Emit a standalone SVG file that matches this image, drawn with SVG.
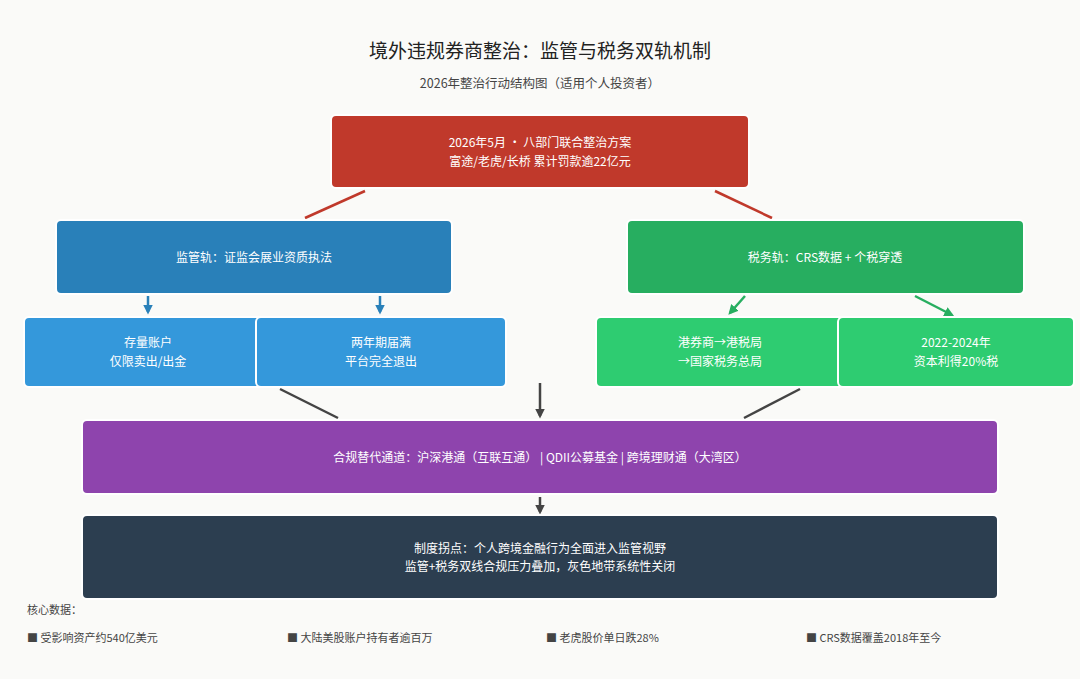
<svg xmlns="http://www.w3.org/2000/svg" width="1080" height="679" viewBox="0 0 1080 679">
<defs>
<style>
text{font-family:"Noto Sans CJK SC","Noto Sans",sans-serif}
.w{fill:#fff;font-size:12px;text-anchor:middle}
.n{stroke:#fff;stroke-width:2}
.c{fill:none;stroke-width:2.5}
.f{fill:#444;font-size:11px}
</style>
<marker id="a" markerWidth="4" markerHeight="4" refX="3" refY="2" orient="auto"><path d="M0,0 L4,2 L0,4z" fill="#2980b9"/></marker>
<marker id="g" markerWidth="4" markerHeight="4" refX="3" refY="2" orient="auto"><path d="M0,0 L4,2 L0,4z" fill="#27ae60"/></marker>
<marker id="k" markerWidth="4" markerHeight="4" refX="3" refY="2" orient="auto"><path d="M0,0 L4,2 L0,4z" fill="#444"/></marker>
</defs>
<rect width="1080" height="679" fill="#fafaf8"/>
<text x="540" y="58" font-size="19" text-anchor="middle" fill="#222">境外违规券商整治：监管与税务双轨机制</text>
<text x="540" y="88" font-size="12.5" text-anchor="middle" fill="#444">2026年整治行动结构图（适用个人投资者）</text>
<g id="connectors">
<path class="c" d="M365,191 L305,218" stroke="#c0392b"/>
<path class="c" d="M715,191 L772,218" stroke="#c0392b"/>
<path class="c" d="M148,296 L148,312" stroke="#2980b9" marker-end="url(#a)"/>
<path class="c" d="M380,296 L380,312" stroke="#2980b9" marker-end="url(#a)"/>
<path class="c" d="M745,296 L730,313" stroke="#27ae60" marker-end="url(#g)"/>
<path class="c" d="M915,296 L952,315" stroke="#27ae60" marker-end="url(#g)"/>
<path class="c" d="M280,389 L338,418" stroke="#444"/>
<path class="c" d="M800,389 L744,418" stroke="#444"/>
<path class="c" d="M540,383 L540,416" stroke="#444" marker-end="url(#k)"/>
<path class="c" d="M540,497 L540,512" stroke="#444" marker-end="url(#k)"/>
</g>
<g id="top"><rect class="n" x="331" y="115" width="418" height="73" rx="5" fill="#c0392b"/>
<text class="w" x="540" y="147">2026年5月 · 八部门联合整治方案</text><text class="w" x="540" y="166">富途/老虎/长桥 累计罚款逾22亿元</text></g>
<g id="reg"><rect class="n" x="56" y="220" width="396" height="74" rx="5" fill="#2980b9"/>
<text class="w" x="254" y="262">监管轨：证监会展业资质执法</text></g>
<g id="tax"><rect class="n" x="627" y="220" width="397" height="74" rx="5" fill="#27ae60"/>
<text class="w" x="825" y="262">税务轨：CRS数据 + 个税穿透</text></g>
<g id="r1"><rect class="n" x="24" y="317" width="239" height="70" rx="5" fill="#3498db"/>
<text class="w" x="148" y="347">存量账户</text><text class="w" x="148" y="366">仅限卖出/出金</text></g>
<g id="r2"><rect class="n" x="256" y="317" width="250" height="70" rx="5" fill="#3498db"/>
<text class="w" x="381" y="347">两年期届满</text><text class="w" x="381" y="366">平台完全退出</text></g>
<g id="t1"><rect class="n" x="596" y="317" width="248" height="70" rx="5" fill="#2ecc71"/>
<text class="w" x="720" y="347">港券商→港税局</text><text class="w" x="720" y="366">→国家税务总局</text></g>
<g id="t2"><rect class="n" x="838" y="317" width="236" height="70" rx="5" fill="#2ecc71"/>
<text class="w" x="956" y="347">2022-2024年</text><text class="w" x="956" y="366">资本利得20%税</text></g>
<g id="alt"><rect class="n" x="82" y="420" width="916" height="74" rx="5" fill="#8e44ad"/>
<text class="w" x="540" y="462">合规替代通道：沪深港通（互联互通）  |  QDII公募基金  |  跨境理财通（大湾区）</text></g>
<g id="end"><rect class="n" x="82" y="515" width="916" height="84" rx="5" fill="#2c3e50"/>
<text class="w" x="540" y="553">制度拐点：个人跨境金融行为全面进入监管视野</text><text class="w" x="540" y="571">监管+税务双线合规压力叠加，灰色地带系统性关闭</text></g>
<g id="data">
<text class="f" x="27" y="614">核心数据：</text>
<text class="f" x="27" y="642">■ 受影响资产约540亿美元</text>
<text class="f" x="287" y="642">■ 大陆美股账户持有者逾百万</text>
<text class="f" x="546" y="642">■ 老虎股价单日跌28%</text>
<text class="f" x="806" y="642">■ CRS数据覆盖2018年至今</text>
</g>
</svg>
